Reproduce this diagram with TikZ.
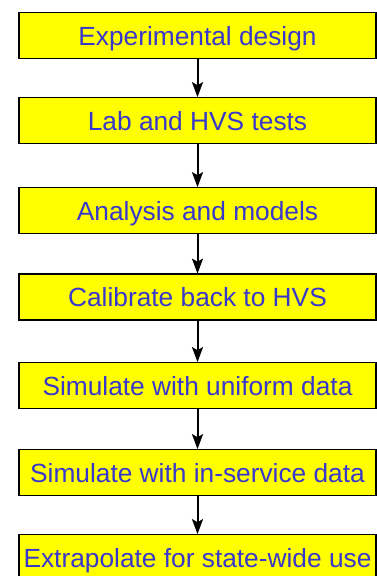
\documentclass[tikz,border=0pt]{standalone}
\usepackage{fontspec}
\setmainfont{Liberation Sans}
\usetikzlibrary{arrows.meta}
\definecolor{txtblue}{RGB}{56,56,204}
\definecolor{boxyellow}{RGB}{255,255,0}
\begin{document}
\begin{tikzpicture}[x=1pt,y=1pt,
  stagebox/.style={draw=black, line width=1.7pt, fill=boxyellow, text=txtblue,
    minimum width=357pt, minimum height=46pt, inner sep=0pt,
    text height=19pt, text depth=0pt,
    font=\fontsize{26.3}{30}\selectfont},
  flowarrow/.style={draw=black, line width=2pt,
    -{Stealth[length=15pt,width=11pt,inset=3pt]}, shorten >=-0.5pt}]
\useasboundingbox (0,0) rectangle (377,-576);
\node[stagebox] (b1) at (197.5,-35.5) {Experimental design};
\node[stagebox] (b2) at (197.5,-120.5) {Lab and HVS tests};
\node[stagebox] (b3) at (197.5,-210.5) {Analysis and models};
\node[stagebox] (b4) at (197.5,-297) {Calibrate back to HVS};
\node[stagebox] (b5) at (197.5,-385.5) {Simulate with uniform data};
\node[stagebox] (b6) at (197.5,-472.5) {Simulate with in-service data};
\node[stagebox] (b7) at (197.5,-557.5) {Extrapolate for state-wide use};
\foreach \a/\b in {b1/b2,b2/b3,b3/b4,b4/b5,b5/b6,b6/b7}
  \draw[flowarrow] (\a.south) -- (\b.north);
\end{tikzpicture}
\end{document}
